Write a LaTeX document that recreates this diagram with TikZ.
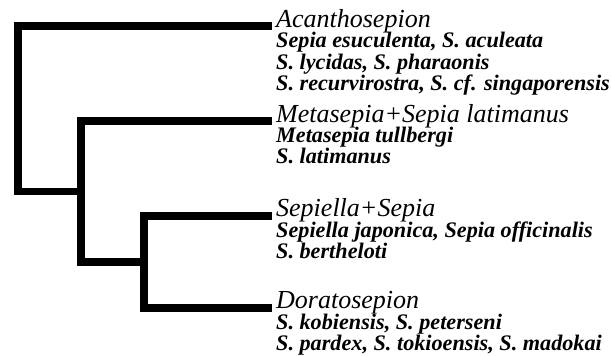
\documentclass[tikz,border=0pt]{standalone}
\usepackage{fontspec}
\setmainfont{Liberation Serif}
\usetikzlibrary{positioning}

\tikzset{
    branch/.style={line width=7.5pt, line join=miter},
    clade/.style={font=\fontsize{26}{26}\selectfont\itshape, inner sep=0pt, text depth=0pt, anchor=base west},
    taxa/.style={font=\fontsize{22.2}{21.5}\selectfont\bfseries\itshape, inner sep=0pt, align=left, anchor=base west},
}

\begin{document}
\begin{tikzpicture}[x=1pt,y=-1pt]

    \useasboundingbox (0,0) rectangle (612,356);

    % --- Internal nodes of the tree ---
    \coordinate (n1) at (18,108.75);
    \coordinate (n2) at (81,191.5);
    \coordinate (n3) at (144,262);

    % --- Branch tips ---
    \coordinate (acantip) at (272,26);
    \coordinate (metatip) at (272,121);
    \coordinate (sepitip) at (272,216);
    \coordinate (doratip) at (272,308);

    % --- Clade names ---
    \node[clade] (acan) at (276,27) {Acanthosepion};
    \node[clade] (meta) at (276,122) {Metasepia+Sepia latimanus};
    \node[clade] (sepi) at (276,216) {Sepiella+Sepia};
    \node[clade] (dora) at (276,308) {Doratosepion};

    % --- Species of each clade (placed at the last line's baseline) ---
    \node[taxa] (acanlist) at (276,90.5) {Sepia esuculenta, S. aculeata\\S. lycidas, S. pharaonis\\S. recurvirostra, S. cf. singaporensis};
    \node[taxa] (metalist) at (276,163.5) {Metasepia tullbergi\\S. latimanus};
    \node[taxa] (sepilist) at (276,258.5) {Sepiella japonica, Sepia officinalis\\S. bertheloti};
    \node[taxa] (doralist) at (276,350.5) {S. kobiensis, S. peterseni\\S. pardex, S. tokioensis, S. madokai};

    % --- Branches ---
    \draw[branch] (n1) |- (acantip);
    \draw[branch] (n1) |- (n2);
    \draw[branch] (n2) |- (metatip);
    \draw[branch] (n2) |- (n3);
    \draw[branch] (n3) |- (sepitip);
    \draw[branch] (n3) |- (doratip);

\end{tikzpicture}
\end{document}
